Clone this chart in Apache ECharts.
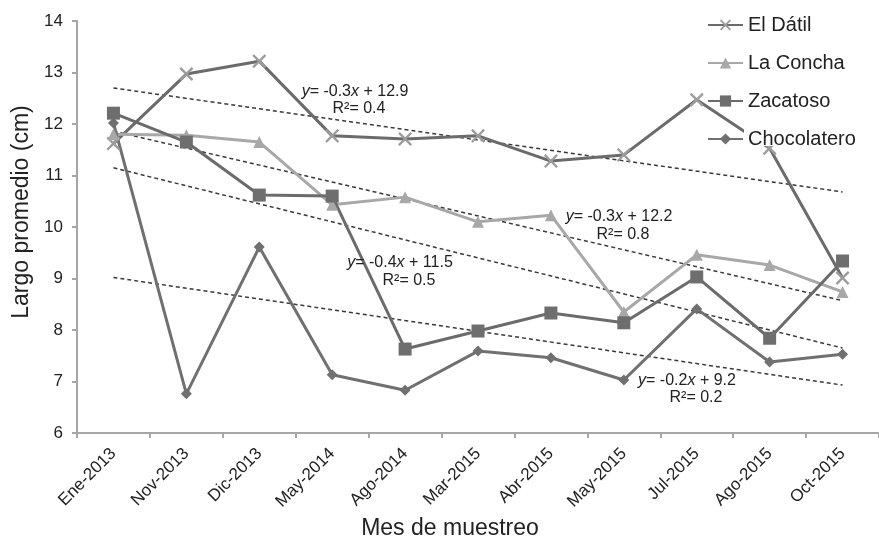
<!DOCTYPE html>
<html>
<head>
<meta charset="utf-8">
<script src="https://cdn.jsdelivr.net/npm/echarts@6/dist/echarts.min.js"></script>
<style>html,body{margin:0;padding:0;background:#fff;}#c{width:879px;height:541px;}</style>
</head>
<body>
<div id="c"></div>
<script>
const categories = ['Ene-2013','Nov-2013','Dic-2013','May-2014','Ago-2014','Mar-2015','Abr-2015','May-2015','Jul-2015','Ago-2015','Oct-2015'];
const seriesNames = ['El Dátil','La Concha','Zacatoso','Chocolatero'];
const elDatil = [11.62,12.97,13.22,11.77,11.71,11.77,11.28,11.40,12.47,11.53,9.01];
const laConcha = [11.80,11.78,11.65,10.43,10.58,10.10,10.23,8.35,9.46,9.26,8.74];
const zacatoso = [12.21,11.65,10.62,10.60,7.63,7.98,8.33,8.14,9.03,7.84,9.34];
const chocolatero = [12.02,6.76,9.61,7.13,6.83,7.59,7.46,7.03,8.41,7.38,7.53];
// trend lines (value at first and last category)
const trendStart = [12.70, 11.86, 11.15, 9.02];
const trendEnd = [10.68, 8.57, 7.65, 6.93];
const trendEq = ['-0.3{i|x} + 12.9', '-0.3{i|x} + 12.2', '-0.4{i|x} + 11.5', '-0.2{i|x} + 9.2'];
const trendR2 = ['0.4', '0.8', '0.5', '0.2'];
const yTicks = [6,7,8,9,10,11,12,13,14];

const FONT = '"Liberation Sans", Arial, sans-serif';
const chart = echarts.init(document.getElementById('c'), null, {renderer:'canvas'});

const xPath = 'path://M0,1.2 L1.2,0 L5,3.8 L8.8,0 L10,1.2 L6.2,5 L10,8.8 L8.8,10 L5,6.2 L1.2,10 L0,8.8 L3.8,5 Z';
const dataSets = [elDatil, laConcha, zacatoso, chocolatero];
const styles = [
  {line:'#6b6b6b', sym:xPath, size:14, color:'#9c9c9c'},
  {line:'#a8a8a8', sym:'triangle', size:12, color:'#a8a8a8'},
  {line:'#6b6b6b', sym:'rect', size:13, color:'#6e6e6e'},
  {line:'#707070', sym:'diamond', size:11, color:'#707070'}
];

const series = dataSets.map((d, k) => ({
  name: seriesNames[k], type:'line', data:d,
  symbol: styles[k].sym, symbolSize: styles[k].size, showSymbol:true,
  lineStyle:{color:styles[k].line, width:3},
  itemStyle:{color:styles[k].color},
  z: 3, animation:false
}));
trendStart.forEach((s, k) => {
  series.push({
    type:'line', data:[[categories[0], s],[categories[categories.length-1], trendEnd[k]]],
    symbol:'none', lineStyle:{color:'#3a3a3a', width:1.5, type:[4,3]}, z:2, animation:false, silent:true
  });
});

const annPos = [[355,92,359,109],[619,217,623,235],[400,263,409,281],[687,381,696,398]];
const graphics = [];
annPos.forEach((p, k) => {
  graphics.push({type:'text', x:p[0], y:p[1], z:20, style:{text:'{i|y}= ' + trendEq[k], fill:'#222', font:'16px ' + FONT, align:'center', verticalAlign:'middle',
    rich:{i:{fontStyle:'italic', fontSize:16, fontFamily:FONT, fill:'#222'}}}});
  graphics.push({type:'text', x:p[2], y:p[3], z:20, style:{text:'R²= ' + trendR2[k], fill:'#222', font:'16px ' + FONT, align:'center', verticalAlign:'middle'}});
});
graphics.push({type:'rect', shape:{x:744, y:118, width:135, height:28}, style:{fill:'#fff'}, z:15});
graphics.push({type:'text', x:22, y:212, rotation:Math.PI/2, z:20, style:{text:'Largo promedio (cm)', fill:'#222', font:'23px ' + FONT, align:'center', verticalAlign:'middle'}});
graphics.push({type:'text', x:450, y:529, z:20, style:{text:'Mes de muestreo', fill:'#222', font:'23px ' + FONT, align:'center', verticalAlign:'middle'}});

chart.setOption({
  backgroundColor:'#fff',
  animation:false,
  grid:{left:77, top:21, width:813, height:412, containLabel:false},
  legend:{
    data:seriesNames, orient:'vertical', left:707, top:15, padding:0, itemWidth:35, itemHeight:14, itemGap:18, z:30,
    textStyle:{fontSize:20, fontFamily:FONT, color:'#222'}
  },
  xAxis:{
    type:'category', data:categories, boundaryGap:true,
    axisLine:{lineStyle:{color:'#a6a6a6', width:2}},
    axisTick:{show:true, length:5, lineStyle:{color:'#a6a6a6', width:2}},
    axisLabel:{rotate:45, margin:18, fontSize:17, fontFamily:FONT, color:'#222', interval:0},
    splitLine:{show:false}
  },
  yAxis:{
    type:'value', min:yTicks[0], max:yTicks[yTicks.length-1], interval:1,
    axisLine:{show:true, lineStyle:{color:'#a6a6a6', width:2}},
    axisTick:{show:true, length:5, lineStyle:{color:'#a6a6a6', width:2}},
    axisLabel:{margin:14, fontSize:17, fontFamily:FONT, color:'#222'},
    splitLine:{show:false}
  },
  series: series,
  graphic: graphics
});
</script>
</body>
</html>
